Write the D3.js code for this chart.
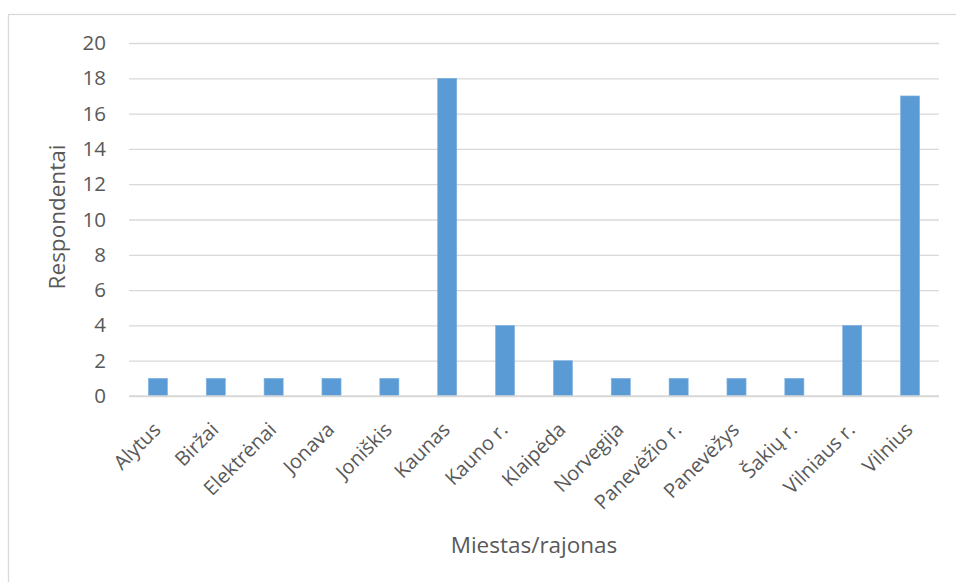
<!DOCTYPE html>
<html>
<head>
<meta charset="utf-8">
<script src="https://cdn.jsdelivr.net/npm/d3@7/dist/d3.min.js"></script>
<style>
  html, body { margin: 0; padding: 0; background: #fff; }
  svg { display: block; font-family: "Open Sans", "Noto Sans", sans-serif; }
</style>
</head>
<body>
<svg id="chart" width="956" height="582"></svg>
<script>
// Respondents by city / district
const categories = ["Alytus", "Biržai", "Elektrėnai", "Jonava", "Joniškis", "Kaunas", "Kauno r.",
  "Klaipėda", "Norvegija", "Panevėžio r.", "Panevėžys", "Šakių r.", "Vilniaus r.", "Vilnius"];
const respondents = [1, 1, 1, 1, 1, 18, 4, 2, 1, 1, 1, 1, 4, 17];
const yTicks = [0, 2, 4, 6, 8, 10, 12, 14, 16, 18, 20];
const yTitle = "Respondentai";
const xTitle = "Miestas/rajonas";

const svg = d3.select("#chart");
const W = 956, H = 582;
const plot = { left: 129, right: 939, top: 43, bottom: 396 };
const fontFamily = '"Open Sans", "Noto Sans", sans-serif';
const textColor = "#595959";
const gridColor = "#d9d9d9";
const barColor = "#5b9bd5";

// chart frame
svg.append("rect")
  .attr("x", 8.5).attr("y", 14.5)
  .attr("width", W).attr("height", H)
  .attr("fill", "none").attr("stroke", "#d9d9d9").attr("stroke-width", 1.3);

const x = d3.scaleBand().domain(categories).range([plot.left, plot.right]).paddingInner(0.67).paddingOuter(0.335);
const y = d3.scaleLinear().domain([0, 20]).range([plot.bottom, plot.top]);

// gridlines + y labels
const yAxis = d3.axisLeft(y).tickValues(yTicks).tickSize(-(plot.right - plot.left)).tickPadding(23);
const gy = svg.append("g").attr("transform", `translate(${plot.left},0)`).call(yAxis)
  .attr("font-family", fontFamily).attr("font-size", 20.5);
gy.select(".domain").remove();
gy.selectAll(".tick line").attr("stroke", gridColor).attr("stroke-width", 1.3);
gy.selectAll(".tick text").attr("fill", textColor);

// bars
svg.append("g").selectAll("rect").data(categories).join("rect")
  .attr("x", d => x(d))
  .attr("width", x.bandwidth())
  .attr("y", (d, i) => y(respondents[i]))
  .attr("height", (d, i) => y(0) - y(respondents[i]))
  .attr("fill", barColor)
  .attr("stroke", "#7fb2e0").attr("stroke-width", 0.6);

// baseline
svg.append("line")
  .attr("x1", plot.left).attr("x2", plot.right)
  .attr("y1", y(0)).attr("y2", y(0))
  .attr("stroke", gridColor).attr("stroke-width", 1.3);

// category labels, rotated
const xAxis = d3.axisBottom(x).tickSize(0).tickPadding(0);
const gx = svg.append("g").attr("transform", `translate(0,${plot.bottom})`).call(xAxis)
  .attr("font-family", fontFamily).attr("font-size", 20);
gx.select(".domain").remove();
gx.selectAll(".tick text")
  .attr("fill", textColor)
  .attr("text-anchor", "end")
  .attr("dy", null).attr("y", 0)
  .attr("transform", "translate(4,35) rotate(-45)");

// axis titles
svg.append("text")
  .attr("transform", `translate(65,217) rotate(-90)`)
  .attr("text-anchor", "middle")
  .attr("fill", textColor).style("font-size", "22.5px")
  .text(yTitle);

svg.append("text")
  .attr("x", 534).attr("y", 553)
  .attr("text-anchor", "middle")
  .attr("fill", textColor).style("font-size", "22.5px")
  .text(xTitle);
</script>
</body>
</html>
